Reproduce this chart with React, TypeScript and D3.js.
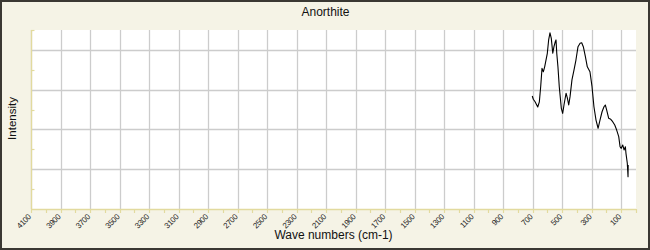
import React from "react";
import * as d3 from "d3";

const title = "Anorthite";
const xLabel = "Wave numbers (cm-1)";
const yLabel = "Intensity";

const waveNumbers = [703, 696, 684, 666, 655, 646, 637, 628, 619, 610, 601, 592, 583, 574, 564, 556, 547, 542, 537, 529, 520, 506, 497, 488, 474, 465, 456, 447, 434, 420, 407, 393, 379, 368, 357, 343, 330, 312, 298, 285, 271, 257, 244, 230, 217, 208, 199, 185, 171, 158, 144, 131, 117, 108, 100, 90, 81, 72, 68, 59, 54, 53];
const intensity = [5.68, 5.52, 5.39, 5.13, 5.39, 6.15, 7.07, 6.9, 7.15, 7.49, 7.83, 8.5, 8.86, 8.58, 7.83, 8.16, 8.41, 8.5, 7.83, 7.15, 6.15, 5.06, 4.81, 5.23, 5.82, 5.57, 5.23, 5.65, 6.49, 6.99, 7.49, 8.16, 8.33, 8.36, 8.16, 7.66, 7.15, 6.9, 6.15, 5.14, 4.47, 4.06, 4.47, 4.89, 5.14, 5.23, 4.98, 4.56, 4.51, 4.39, 4.22, 3.97, 3.64, 3.13, 3.05, 3.22, 2.97, 3.13, 2.8, 2.3, 1.62, 2.21];

const xTickLabels = [4100, 3900, 3700, 3500, 3300, 3100, 2900, 2700, 2500, 2300, 2100, 1900, 1700, 1500, 1300, 1100, 900, 700, 500, 300, 100];
const xMinorTicks = d3.range(0, 4101, 100);
const yGridValues = [2, 4, 6, 8];
const yMinorValues = [1, 3, 5, 7, 9];

const W = 650;
const H = 250;
const left = 31;
const right = 636;
const top = 30;
const bottom = 209;

export default function App() {
  const x = d3.scaleLinear().domain([4100, 0]).range([left, right]);
  const y = d3.scaleLinear().domain([0, 9]).range([bottom, top]);
  const pts: [number, number][] = waveNumbers.map((w, i) => [w, intensity[i]]);
  const line = d3
    .line<[number, number]>()
    .x((d) => x(d[0]))
    .y((d) => y(d[1]));

  const axisColor = "#e2da9e";
  const gridColor = "#cccccc";

  return (
    <svg
      width={W}
      height={H}
      style={{ position: "absolute", left: 0, top: 0, display: "block" }}
      fontFamily="'Liberation Sans', Arial, sans-serif"
    >
      <rect x={0} y={0} width={W} height={H} fill="#f5f3e6" />
      <rect x={1} y={1} width={W - 2} height={H - 2} fill="none" stroke="#3a3833" strokeWidth={2} />
      <rect x={left} y={top} width={right - left} height={bottom - top} fill="#ffffff" />
      {xTickLabels.map((v) => (
        <line key={"gx" + v} x1={Math.round(x(v)) + 0.5} x2={Math.round(x(v)) + 0.5} y1={top} y2={bottom} stroke={gridColor} strokeWidth={1.3} />
      ))}
      {yGridValues.map((v) => (
        <line key={"gy" + v} x1={left} x2={right} y1={Math.round(y(v)) + 0.5} y2={Math.round(y(v)) + 0.5} stroke={gridColor} strokeWidth={1.3} />
      ))}
      {yMinorValues.map((v) => (
        <line key={"ty" + v} x1={left} x2={left + 3.5} y1={Math.round(y(v)) + 0.5} y2={Math.round(y(v)) + 0.5} stroke={axisColor} strokeWidth={1.2} />
      ))}
      {xMinorTicks.map((v) => (
        <line key={"tx" + v} x1={Math.round(x(v)) + 0.5} x2={Math.round(x(v)) + 0.5} y1={bottom} y2={bottom + 4} stroke={axisColor} strokeWidth={1.2} />
      ))}
      <line x1={left + 0.5} x2={left + 0.5} y1={top} y2={bottom} stroke={axisColor} strokeWidth={1.3} />
      <line x1={left} x2={right} y1={bottom + 0.5} y2={bottom + 0.5} stroke={axisColor} strokeWidth={1.3} />
      <path d={line(pts) || ""} fill="none" stroke="#000" strokeWidth={1.1} strokeLinejoin="round" />
      {xTickLabels.map((v) => (
        <text
          key={"lx" + v}
          transform={`translate(${x(v) - 1},${bottom + 7}) rotate(-45)`}
          textAnchor="end"
          dominantBaseline="middle"
          fontSize={8}
          fill="#222"
          letterSpacing={-0.4}
        >
          {v}
        </text>
      ))}
      <text x={(left + right) / 2 - 8} y={16} textAnchor="middle" fontSize={12} fill="#111">
        {title}
      </text>
      <text x={(left + right) / 2} y={239} textAnchor="middle" fontSize={12} fill="#111">
        {xLabel}
      </text>
      <text transform={`translate(16,${(top + bottom) / 2 - 1}) rotate(-90)`} textAnchor="middle" fontSize={11.5} fill="#111">
        {yLabel}
      </text>
    </svg>
  );
}
